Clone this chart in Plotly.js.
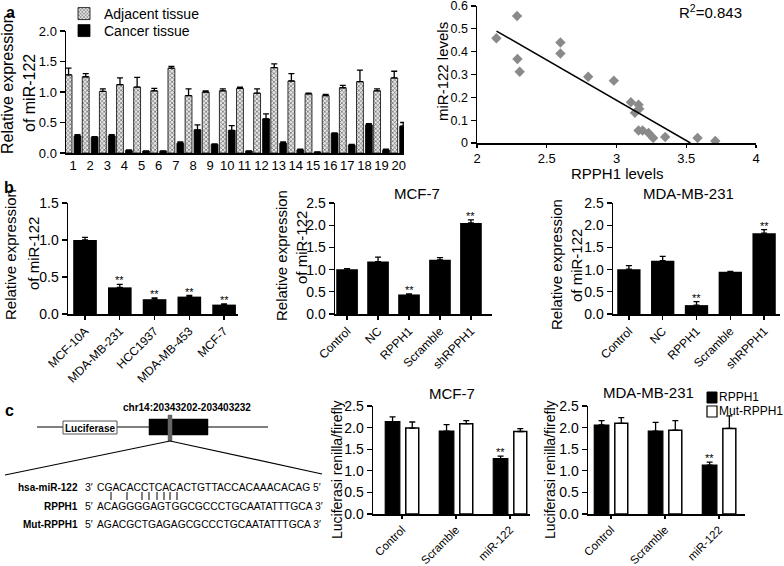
<!DOCTYPE html>
<html><head><meta charset="utf-8">
<script src="https://cdn.plot.ly/plotly-3.0.1.min.js"></script>
<style>html,body{margin:0;padding:0;background:#fff}#chart{width:784px;height:566px}</style>
</head><body><div id="chart"></div>
<script>
// ---------- Panel a (left): tissue samples ----------
const sampleIds = ['1','2','3','4','5','6','7','8','9','10','11','12','13','14','15','16','17','18','19','20'];
const adjacentMean = [1.28,1.25,1.01,1.12,1.08,1.02,1.39,0.94,1.00,1.02,1.06,0.98,1.40,1.18,0.97,0.94,1.07,1.17,1.02,1.23];
const adjacentErr  = [0.11,0.05,0.04,0.11,0.16,0.04,0.03,0.11,0.02,0.03,0.02,0.07,0.06,0.12,0.01,0.02,0.04,0.19,0.03,0.11];
const cancerMean   = [0.28,0.26,0.28,0.04,0.03,0.03,0.16,0.38,0.14,0.37,0.03,0.56,0.16,0.05,0.015,0.32,0.13,0.46,0.05,0.44];
const cancerErr    = [0.02,0.01,0.02,0.01,0.005,0.005,0.02,0.08,0.01,0.08,0.005,0.08,0.02,0.015,0.003,0.01,0.01,0.02,0.015,0.06];

// ---------- Panel a (right): correlation ----------
const rpph1Levels  = [2.139,2.287,2.290,2.306,2.598,2.598,2.797,2.981,3.103,3.158,3.163,3.132,3.158,3.187,3.230,3.263,3.349,3.581,3.708];
const mir122Levels = [0.459,0.556,0.368,0.312,0.440,0.392,0.290,0.273,0.179,0.168,0.150,0.132,0.055,0.055,0.044,0.022,0.026,0.022,0.009];
const fitLineX = [2.14, 3.53];
const fitLineY = [0.49, 0.0];
const rSquaredText = 'R<sup>2</sup>=0.843';
const scatterYTicks = [0, 0.1, 0.2, 0.3, 0.4, 0.5, 0.6];
const scatterYLabels = ['0', '0.1', '0.2', '0.3', '0.4', '0.5', '0.6'];
const scatterXTicks = [2, 2.5, 3, 3.5, 4];
const scatterXLabels = ['2', '2.5', '3', '3.5', '4'];

// ---------- Panel b ----------
const cellLines = ['MCF-10A','MDA-MB-231','HCC1937','MDA-MB-453','MCF-7'];
const cellMean  = [1.00,0.36,0.20,0.235,0.127];
const cellErr   = [0.035,0.04,0.017,0.015,0.008];
const cellSig   = ['','**','**','**','**'];

const treatments = ['Control','NC','RPPH1','Scramble','shRPPH1'];
const mcf7Mean = [1.01,1.18,0.44,1.22,2.05];
const mcf7Err  = [0.01,0.10,0.015,0.05,0.07];
const mcf7Sig  = ['','','**','','**'];
const mdaMean  = [1.01,1.20,0.20,0.95,1.82];
const mdaErr   = [0.08,0.10,0.08,0.01,0.08];
const mdaSig   = ['','','**','','**'];

// ---------- Panel c ----------
const lucGroups = ['Control','Scramble','miR-122'];
const constructNames = ['RPPH1', 'Mut-RPPH1'];
const mcf7Wt     = [2.14,1.92,1.28];
const mcf7WtErr  = [0.11,0.15,0.06];
const mcf7Mut    = [1.99,2.09,1.91];
const mcf7MutErr = [0.14,0.07,0.065];
const mdaWt      = [2.06,1.92,1.13];
const mdaWtErr   = [0.10,0.20,0.07];
const mdaMut     = [2.10,1.94,1.98];
const mdaMutErr  = [0.13,0.22,0.29];
const lucSig     = ['','','**'];

const seqMiR   = 'CGACACCTCACACTGTTACCACAAACACAG';
const seqWt    = 'ACAGGGGAGTGGCGCCCTGCAATATTTGCA';
const seqMut   = 'AGACGCTGAGAGCGCCCTGCAATATTTGCA';

// ---------- helpers ----------
const W = 784, H = 566;
const PX = v => v / W;
const PY = v => 1 - v / H;
const FAM = '"Liberation Sans", Arial, Helvetica, sans-serif';
const font = (size, bold) => ({family: FAM, size: size, color: '#000', weight: bold ? 'bold' : 'normal'});
const zeros = a => a.map(() => 0);

function errY(arr) {
  return {type: 'data', symmetric: false, array: arr, arrayminus: zeros(arr), color: '#000', thickness: 1.3, width: 3};
}

const axisBase = {
  showline: true, linecolor: '#000', linewidth: 1.5, showgrid: false, zeroline: false,
  ticks: 'outside', ticklen: 5, tickwidth: 1.3, tickcolor: '#000', fixedrange: true,
  showticklabels: true, ticklabeloverflow: 'allow', automargin: false
};
function xcat(domain, range, anchor, extra) {
  return Object.assign({}, axisBase, {type: 'category', domain: domain, range: range, anchor: anchor}, extra || {});
}
function ylin(domain, range, dtick, anchor, extra) {
  return Object.assign({}, axisBase, {type: 'linear', domain: domain, range: range, dtick: dtick, tick0: 0, tickformat: '.1f', anchor: anchor}, extra || {});
}

const traces = [];
// Panel a bars
traces.push({type: 'bar', x: sampleIds, y: adjacentMean, name: 'Adjacent tissue', xaxis: 'x', yaxis: 'y',
  offset: -0.46, width: 0.40, error_y: errY(adjacentErr), legend: 'legend',
  marker: {color: '#cfcfcf', line: {color: '#000', width: 0.8},
           pattern: {shape: 'x', fgcolor: '#555', bgcolor: '#e6e6e6', size: 3, solidity: 0.35}}});
traces.push({type: 'bar', x: sampleIds, y: cancerMean, name: 'Cancer tissue', xaxis: 'x', yaxis: 'y',
  offset: 0.06, width: 0.40, error_y: errY(cancerErr), legend: 'legend2',
  marker: {color: '#000', line: {color: '#000', width: 0.8}}});
// Scatter
traces.push({type: 'scatter', mode: 'markers', x: rpph1Levels, y: mir122Levels, xaxis: 'x2', yaxis: 'y2', showlegend: false,
  marker: {symbol: 'diamond', size: 8, color: '#8a8a8a'}});
traces.push({type: 'scatter', mode: 'lines', x: fitLineX, y: fitLineY, xaxis: 'x2', yaxis: 'y2', showlegend: false,
  line: {color: '#000', width: 1.5}});
// Panel b
traces.push({type: 'bar', x: cellLines, y: cellMean, xaxis: 'x3', yaxis: 'y3', showlegend: false, width: 0.68,
  error_y: errY(cellErr), marker: {color: '#000'}});
traces.push({type: 'bar', x: treatments, y: mcf7Mean, xaxis: 'x4', yaxis: 'y4', showlegend: false, width: 0.70,
  error_y: errY(mcf7Err), marker: {color: '#000'}});
traces.push({type: 'bar', x: treatments, y: mdaMean, xaxis: 'x5', yaxis: 'y5', showlegend: false, width: 0.69,
  error_y: errY(mdaErr), marker: {color: '#000'}});
// Panel c
const wtStyle  = {color: '#000', line: {color: '#000', width: 1.2}};
const mutStyle = {color: '#fff', line: {color: '#000', width: 1.5}};
traces.push({type: 'bar', x: lucGroups, y: mcf7Wt, name: constructNames[0], xaxis: 'x6', yaxis: 'y6', showlegend: false,
  offset: -0.31, width: 0.27, error_y: errY(mcf7WtErr), marker: wtStyle});
traces.push({type: 'bar', x: lucGroups, y: mcf7Mut, name: constructNames[1], xaxis: 'x6', yaxis: 'y6', showlegend: false,
  offset: 0.07, width: 0.24, error_y: errY(mcf7MutErr), marker: mutStyle});
traces.push({type: 'bar', x: lucGroups, y: mdaWt, name: constructNames[0], xaxis: 'x7', yaxis: 'y7', showlegend: false,
  offset: -0.31, width: 0.27, error_y: errY(mdaWtErr), marker: wtStyle});
traces.push({type: 'bar', x: lucGroups, y: mdaMut, name: constructNames[1], xaxis: 'x7', yaxis: 'y7', showlegend: false,
  offset: 0.07, width: 0.24, error_y: errY(mdaMutErr), marker: mutStyle});

// ---------- annotations ----------
const annotations = [];
function ann(text, x, y, size, opt) {
  opt = opt || {};
  annotations.push({xref: 'paper', yref: 'paper', x: PX(x), y: PY(y), text: text, showarrow: false,
    font: font(size, opt.bold), xanchor: opt.xa || 'center', yanchor: opt.ya || 'middle',
    textangle: opt.rot || 0, borderpad: 0});
}
function sigMarks(sig, means, errs, xa, ya, shift) {
  sig.forEach((s, i) => {
    if (!s) return;
    annotations.push({xref: xa, yref: ya, x: i + (shift || 0), y: means[i] + errs[i], text: s, showarrow: false,
      font: font(11), xanchor: 'center', yanchor: 'bottom', yshift: -3, borderpad: 0});
  });
}
// panel letters
ann('a', 10, 12, 16, {bold: true});
ann('b', 9, 187, 16, {bold: true});
ann('c', 9, 410, 16, {bold: true});
// panel a y title
ann('Relative expression', 8, 84, 16, {rot: -90});
ann('of miR-122', 29, 93, 16, {rot: -90});
// scatter titles
ann('RPPH1 levels', 617, 174, 15);
ann('miR-122 levels', 442, 72, 15, {rot: -90});
ann(rSquaredText, 678, 11, 15, {xa: 'left'});
// panel b titles
ann('Relative expression', 10, 255, 15, {rot: -90});
ann('of miR-122', 33, 254, 15, {rot: -90});
ann('Relative expression', 281, 256, 15, {rot: -90});
ann('of miR-122', 301, 248, 15, {rot: -90});
ann('Relative expression', 556, 265, 15, {rot: -90});
ann('of miR-122', 576, 266, 15, {rot: -90});
ann('MCF-7', 417, 193, 15);
ann('MDA-MB-231', 688, 193, 15);
sigMarks(cellSig, cellMean, cellErr, 'x3', 'y3');
sigMarks(mcf7Sig, mcf7Mean, mcf7Err, 'x4', 'y4');
sigMarks(mdaSig, mdaMean, mdaErr, 'x5', 'y5');
// panel c
ann('MCF-7', 452, 393, 15);
ann('MDA-MB-231', 648, 392, 15);
ann('Luciferasi renilla/firefly', 337, 470, 14, {rot: -90});
ann('Luciferasi renilla/firefly', 550, 470, 14, {rot: -90});
sigMarks(lucSig, mcf7Wt, mcf7WtErr, 'x6', 'y6', -0.175);
sigMarks(lucSig, mdaWt, mdaWtErr, 'x7', 'y7', -0.175);
// panel c legend text
ann(constructNames[0], 718, 397, 12, {xa: 'left'});
ann(constructNames[1], 718, 411, 12, {xa: 'left'});
// diagram text
ann('chr14:20343202-203403232', 187, 407, 10, {bold: true});
ann('Luciferase', 90, 428, 10, {bold: true});
ann('hsa-miR-122', 79, 487, 10, {xa: 'right', bold: true});
ann('RPPH1', 79, 506, 10, {xa: 'right', bold: true});
ann('Mut-RPPH1', 79, 524, 10, {xa: 'right', bold: true});
ann('3\u2032', 84, 487, 10.5, {xa: 'left'});
ann('5\u2032', 84, 506, 10.5, {xa: 'left'});
ann('5\u2032', 84, 524, 10.5, {xa: 'left'});
ann(seqMiR + ' 5\u2032', 96, 487, 10.3, {xa: 'left'});
ann(seqWt + ' 3\u2032', 96, 506, 10.3, {xa: 'left'});
ann(seqMut + ' 3\u2032', 96, 524, 10.3, {xa: 'left'});

// ---------- diagram shapes ----------
const shapes = [];
function line(x0, y0, x1, y1, w) {
  shapes.push({type: 'line', xref: 'paper', yref: 'paper', x0: PX(x0), y0: PY(y0), x1: PX(x1), y1: PY(y1),
    line: {color: '#000', width: w || 1.2}});
}
function rect(x0, y0, x1, y1, fill, lc, lw) {
  shapes.push({type: 'rect', xref: 'paper', yref: 'paper', x0: PX(x0), y0: PY(y0), x1: PX(x1), y1: PY(y1),
    fillcolor: fill, line: {color: lc, width: lw}});
}
line(37, 427, 268, 427, 1.2);
rect(63, 421, 117, 434, '#fff', '#555', 1);
rect(149, 419, 208, 435, '#000', '#000', 0.5);
rect(168, 415, 172, 441, '#666', '#666', 0.5);
line(170, 441, 5, 475, 1.2);
line(170, 441, 322, 474, 1.2);
[111, 127, 142, 149, 157, 164, 170, 177].forEach(x => line(x, 492, x, 500, 1));
// panel c legend swatches
rect(707, 392, 717, 403, '#000', '#000', 1);
rect(707, 406, 717, 417, '#fff', '#000', 1.2);

const legBase = {xanchor: 'left', yanchor: 'top', bgcolor: 'rgba(0,0,0,0)', itemwidth: 30, tracegroupgap: 0, font: font(14)};

const rotTick = {tickangle: -45, tickfont: font(12), ticklen: 4};
const rotTickC = {tickangle: -45, tickfont: font(11.5), ticklen: 3};
const layout = {
  width: W, height: H, autosize: false,
  margin: {l: 0, r: 0, t: 0, b: 0, pad: 0, autoexpand: false},
  paper_bgcolor: '#fff', plot_bgcolor: 'rgba(0,0,0,0)',
  font: font(13),
  barmode: 'overlay',
  xaxis:  xcat([PX(66), PX(404)], [-0.41, 19.31], 'y', {ticks: '', tickfont: font(13), tickangle: 0}),
  yaxis:  ylin([PY(153), PY(31)], [0, 2.0], 0.5, 'x', {tickfont: font(13)}),
  xaxis2: Object.assign({}, axisBase, {type: 'linear', domain: [PX(477), PX(756)], range: [2, 4],
          tickmode: 'array', tickvals: scatterXTicks, ticktext: scatterXLabels, ticklen: 3, anchor: 'y2', tickfont: font(13)}),
  yaxis2: Object.assign({}, axisBase, {type: 'linear', domain: [PY(143), PY(6)], range: [0, 0.6],
          tickmode: 'array', tickvals: scatterYTicks, ticktext: scatterYLabels, anchor: 'x2', side: 'left', tickfont: font(12.5)}),
  xaxis3: xcat([PX(68), PX(238)], [-0.49, 4.4], 'y3', rotTick),
  yaxis3: ylin([PY(314), PY(203)], [0, 1.5], 0.5, 'x3', {tickfont: font(14)}),
  xaxis4: xcat([PX(335), PX(492)], [-0.39, 4.68], 'y4', rotTick),
  yaxis4: ylin([PY(314), PY(203)], [0, 2.5], 0.5, 'x4', {tickfont: font(14)}),
  xaxis5: xcat([PX(613), PX(780)], [-0.47, 4.47], 'y5', rotTick),
  yaxis5: ylin([PY(314), PY(203)], [0, 2.5], 0.5, 'x5', {tickfont: font(14)}),
  xaxis6: xcat([PX(373), PX(530)], [-0.537, 2.37], 'y6', rotTickC),
  yaxis6: ylin([PY(514), PY(406)], [0, 2.5], 0.5, 'x6', {tickfont: font(14)}),
  xaxis7: xcat([PX(588), PX(745)], [-0.426, 2.48], 'y7', rotTickC),
  yaxis7: ylin([PY(514), PY(406)], [0, 2.5], 0.5, 'x7', {tickfont: font(14)}),
  legend:  Object.assign({}, legBase, {x: PX(64), y: PY(-2)}),
  legend2: Object.assign({}, legBase, {x: PX(64), y: PY(15)}),
  annotations: annotations,
  shapes: shapes
};

Plotly.newPlot('chart', traces, layout, {displayModeBar: false, staticPlot: true});
</script>
</body></html>
